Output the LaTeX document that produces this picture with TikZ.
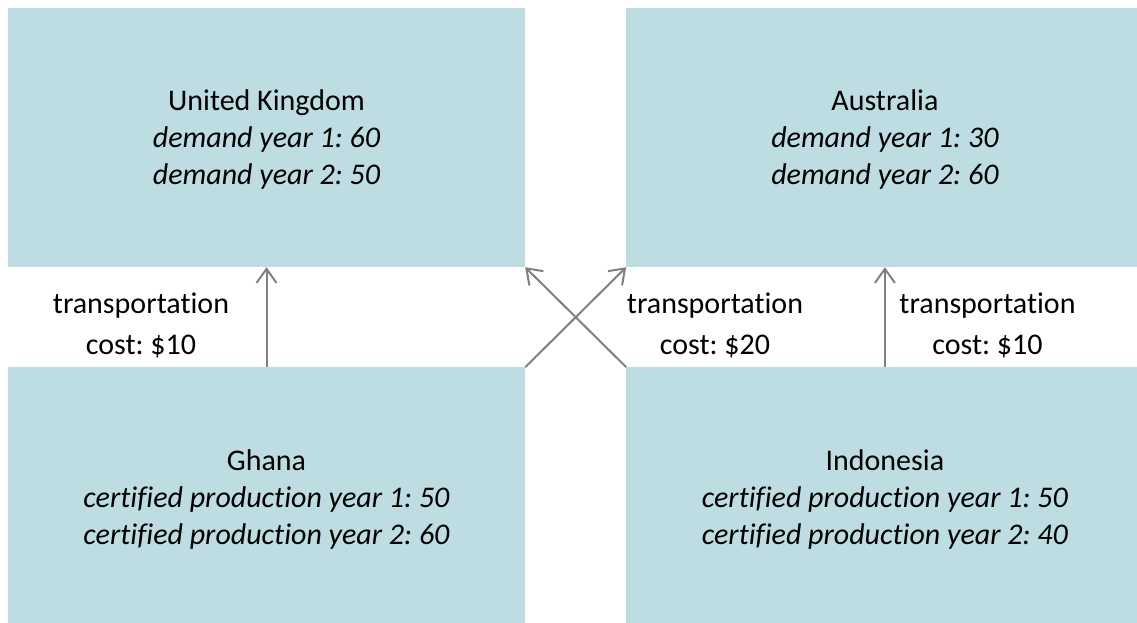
\documentclass[tikz,border=0pt]{standalone}
\usepackage{fontspec}
\setmainfont{Carlito}[Ligatures=NoCommon]
\usetikzlibrary{arrows.meta,positioning}
\definecolor{boxblue}{RGB}{190,221,226}
\definecolor{arrowgray}{RGB}{128,128,128}
\frenchspacing

\begin{document}
\begin{tikzpicture}[
    x=1pt, y=1pt,
    node distance=100pt and 101pt,
    box/.style={fill=boxblue, minimum width=517pt, minimum height=259pt,
      inner sep=0pt, align=center, text depth=-2pt,
      font=\fontsize{30}{37}\selectfont},
    cost/.style={align=center, font=\fontsize{30}{41}\selectfont},
    arrow/.style={-{Straight Barb[length=14pt,width=20pt]}, line width=2pt, draw=arrowgray}
  ]
    \clip (0,0) rectangle (1137,622);
    \node[box] (uk) at (266.5,484.5) {United Kingdom\\
    \textit{demand year 1: 60}\\
    \textit{demand year 2: 50}};
    \node[box, right=of uk] (aus) {Australia\\
    \textit{demand year 1: 30}\\
    \textit{demand year 2: 60}};
    \node[box, below=of uk] (ghana) {Ghana\\
    \textit{certified production year 1: 50}\\
    \textit{certified production year 2: 60}};
    \node[box, below=of aus] (indo) {Indonesia\\
    \textit{certified production year 1: 50}\\
    \textit{certified production year 2: 40}};

    \draw[arrow] (ghana) -- (uk);
    \draw[arrow] (ghana.north east) -- (aus.south west);
    \draw[arrow] (indo.north west) -- (uk.south east);
    \draw[arrow] (indo) -- (aus);

    \node[cost] (costgu) at (141,297) {transportation\\ cost: \$10};
    \node[cost] (costx) at (715,297) {transportation\\ cost: \$20};
    \node[cost] (costia) at (987.5,297) {transportation\\ cost: \$10};
  \end{tikzpicture}
\end{document}
